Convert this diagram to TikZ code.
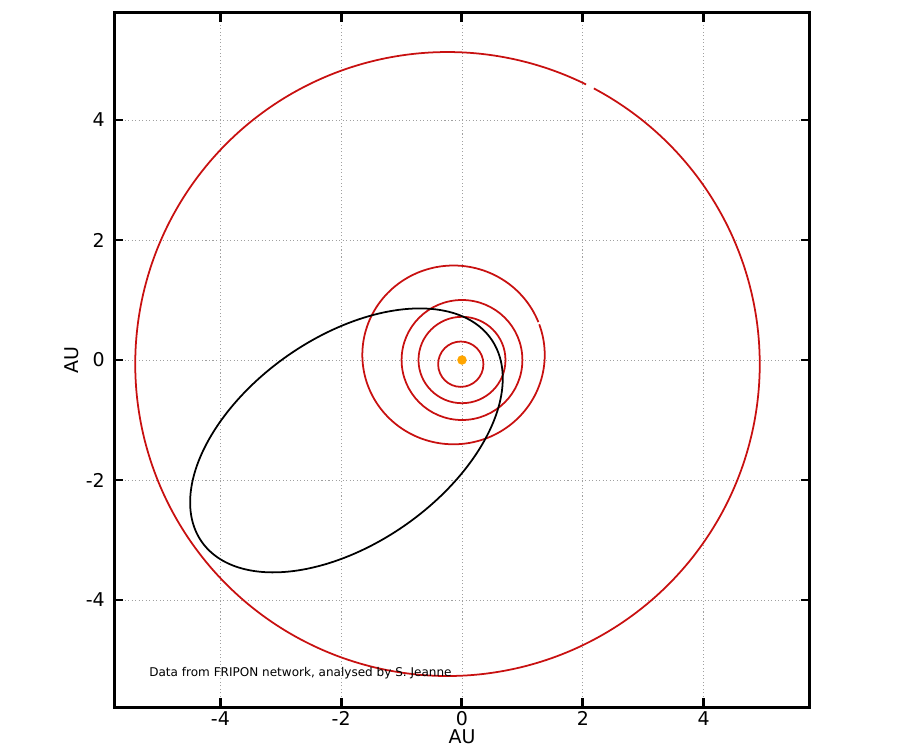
\documentclass[tikz,border=0pt]{standalone}
\usepackage{fontspec}
\setmainfont{DejaVu Sans}
\definecolor{orbitred}{RGB}{200,16,16}
\definecolor{sunorange}{RGB}{255,165,0}
\definecolor{gridgray}{RGB}{160,160,160}
\begin{document}
\begin{tikzpicture}[x=1.208cm,y=1.2cm,
  orbit/.style={orbitred, line width=1pt},
  comet/.style={black, line width=1pt, line join=round},
  gridline/.style={gridgray, line width=0.5pt, dash pattern=on 0.6pt off 1.4pt},
  frame/.style={black, line width=1.7pt, line join=miter},
  tickmark/.style={black, line width=1.7pt},
  ticklabel/.style={inner sep=0pt, font=\fontsize{10.8}{12}\selectfont},
  axislabel/.style={inner sep=0pt, font=\fontsize{10.8}{12}\selectfont},
  credit/.style={inner sep=0pt, anchor=west, font=\fontsize{6.85}{8}\selectfont}]
\useasboundingbox (-7.649,-6.5) rectangle (7.252,6.0);
% grid
\foreach \v in {-4,-2,0,2,4} {
  \draw[gridline] (\v,-5.79) -- (\v,5.79);
  \draw[gridline] (-5.76,\v) -- (5.76,\v);
}
% ticks
\foreach \v in {-4,-2,0,2,4} {
  \draw[tickmark] (\v,-5.79) -- ++(0,0.15);
  \draw[tickmark] (\v,5.79) -- ++(0,-0.15);
  \draw[tickmark] (-5.76,\v) -- ++(0.15,0);
  \draw[tickmark] (5.76,\v) -- ++(-0.15,0);
}
% planetary orbits
\draw[orbit] (-0.02,-0.07) ellipse [x radius=0.375, y radius=0.378];
\draw[orbit] (0,0) ellipse [x radius=0.72, y radius=0.72];
\draw[orbit] (0,0) ellipse [x radius=1.0, y radius=1.0];
\draw[orbit] plot[domain=21.5:380, samples=160, smooth] ({-0.14+1.51*cos(\x)},{0.085+1.49*sin(\x)});
\draw[orbit] plot[domain=63.65:422.05, samples=320, smooth] ({-0.24+5.17*cos(\x)},{-0.067+5.2*sin(\x)});
% meteoroid orbit
\draw[comet] plot[domain=0:360, samples=241, smooth]
  ({-1.913+2.932*cos(\x)*cos(35.4)-1.715*sin(\x)*sin(35.4)},
   {-1.34+2.932*cos(\x)*sin(35.4)+1.715*sin(\x)*cos(35.4)});
% sun
\node[circle, fill=sunorange, minimum size=0.19cm, inner sep=0pt] (sun) at (0,0) {};
% frame
\draw[frame] (-5.76,-5.79) rectangle (5.76,5.79);
% tick labels
\foreach \v/\n in {-4/xa,-2/xb,0/xc,2/xd,4/xe} {
  \node[ticklabel] (\n) at (\v,-5.97) {\v};
}
\foreach \v/\n in {-4/ya,-2/yb,0/yc,2/yd,4/ye} {
  \node[ticklabel, anchor=east] (\n) at (-5.91,\v) {\v};
}
\node[axislabel] (xlabel) at (0,-6.283) {AU};
\node[axislabel, rotate=90] (ylabel) at (-6.457,0) {AU};
\node[credit] (credit) at (-5.182,-5.212) {Data from FRIPON network, analysed by S. Jeanne};
\end{tikzpicture}
\end{document}
